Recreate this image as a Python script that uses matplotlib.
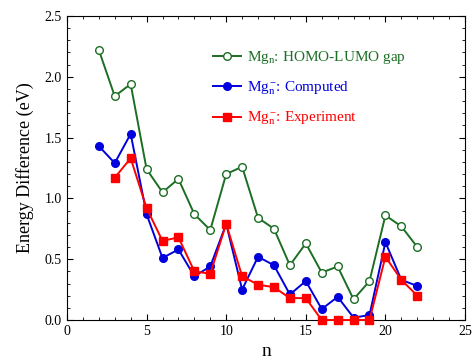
import numpy as np
import matplotlib.pyplot as plt
from matplotlib.ticker import MultipleLocator

plt.rcParams['font.family'] = 'Liberation Serif'
plt.rcParams['mathtext.fontset'] = 'custom'
plt.rcParams['mathtext.rm'] = 'Liberation Serif'
plt.rcParams['mathtext.it'] = 'Liberation Serif:italic'

# datos
n_gap = list(range(2, 23))
gap = [2.22, 1.84, 1.94, 1.24, 1.05, 1.16, 0.87, 0.74, 1.20, 1.26, 0.84,
       0.75, 0.45, 0.63, 0.39, 0.44, 0.17, 0.32, 0.86, 0.77, 0.60]

n_comp = list(range(2, 23))
comp = [1.43, 1.29, 1.53, 0.87, 0.51, 0.58, 0.36, 0.44, 0.79, 0.25, 0.52,
        0.45, 0.21, 0.32, 0.09, 0.19, 0.02, 0.04, 0.64, 0.33, 0.28]

n_exp = list(range(3, 23))
expv = [1.17, 1.33, 0.92, 0.65, 0.68, 0.40, 0.38, 0.79, 0.36, 0.29, 0.27,
        0.18, 0.18, 0.0, 0.0, 0.0, 0.0, 0.52, 0.33, 0.20]

fig = plt.figure(figsize=(4.75, 3.62), dpi=100)
ax = fig.add_axes([0.141, 0.116, 0.838, 0.840])

ax.plot(n_gap, gap, '-o', color='#1b6e24', mfc='white', mec='#1b6e24',
        ms=5.5, lw=1.4, label=r'Mg$_{\mathrm{n}}$: HOMO-LUMO gap', clip_on=False, zorder=3)
ax.plot(n_comp, comp, '-o', color='#0000dd', ms=5.5, lw=1.4,
        label=r'Mg$_{\mathrm{n}}^{\,\mathrm{-}}$: Computed', clip_on=False, zorder=4)
ax.plot(n_exp, expv, '-s', color='#ff0000', ms=6, lw=1.4,
        label=r'Mg$_{\mathrm{n}}^{\,\mathrm{-}}$: Experiment', clip_on=False, zorder=5)

ax.set_xlim(0, 25)
ax.set_ylim(0, 2.5)
ax.xaxis.set_major_locator(MultipleLocator(5))
ax.xaxis.set_minor_locator(MultipleLocator(1))
ax.yaxis.set_major_locator(MultipleLocator(0.5))
ax.yaxis.set_minor_locator(MultipleLocator(0.1))
ax.yaxis.set_major_formatter(plt.FormatStrFormatter('%.1f'))
ax.tick_params(which='both', direction='in', top=True, right=True, labelsize=10)
ax.tick_params(which='major', length=4)
ax.tick_params(which='minor', length=2.5)

ax.set_xlabel('n', fontsize=14)
ax.set_ylabel('Energy Difference (eV)', fontsize=13, labelpad=8)

ax.legend(loc='upper right', bbox_to_anchor=(0.885, 0.935), frameon=False,
          fontsize=11, labelcolor='linecolor', handlelength=1.8,
          labelspacing=0.85, handletextpad=0.4)

fig.savefig('out.png', dpi=100)
